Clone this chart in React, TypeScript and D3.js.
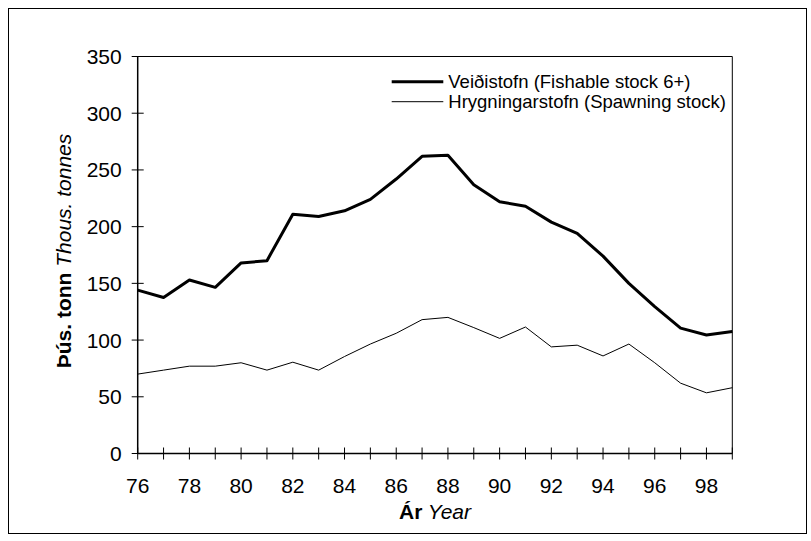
import React from "react";
import * as d3 from "d3";

const years = [76, 77, 78, 79, 80, 81, 82, 83, 84, 85, 86, 87, 88, 89, 90, 91, 92, 93, 94, 95, 96, 97, 98, 99];
const fishable = [144, 137.5, 153, 146.5, 168, 170, 211, 209, 214, 224, 242, 262, 263, 237, 222, 218, 204, 194, 174, 150, 129.5, 110.5, 104.5, 107.5];
const spawning = [70, 73.5, 77, 77, 80, 73.5, 80.5, 73.5, 85.5, 96.5, 106, 118, 120, 111, 101.5, 111.5, 94, 95.5, 86, 96.5, 80, 62, 53.5, 58];
const yTicks = [0, 50, 100, 150, 200, 250, 300, 350];
const xTickLabels = [76, 78, 80, 82, 84, 86, 88, 90, 92, 94, 96, 98];
const legendLabels = ["Veiðistofn (Fishable stock 6+)", "Hrygningarstofn (Spawning stock)"];

const FONT = "'Liberation Sans', Arial, sans-serif";

export default function App() {
  const left = 137.7, right = 732.3, top = 56.5, bottom = 453.5;
  const x = d3.scaleLinear().domain([76, 99]).range([left, right]);
  const y = d3.scaleLinear().domain([0, 350]).range([bottom, top]);
  const line = d3.line<number>().x((_, i) => x(years[i])).y((d) => y(d));

  return (
    <svg width={811} height={541} style={{ position: "absolute", left: 0, top: 0 }} fontFamily={FONT}>
      <rect x={0} y={0} width={811} height={541} fill="#fff" />
      <rect x={8.5} y={8.5} width={798} height={525} fill="none" stroke="#000" strokeWidth={1} />
      {/* plot frame top & right */}
      <line x1={left} x2={right} y1={top} y2={top} stroke="#000" strokeWidth={1} />
      <line x1={right} x2={right} y1={top} y2={bottom} stroke="#000" strokeWidth={1} />
      {/* axes */}
      <line x1={left} x2={left} y1={top} y2={bottom} stroke="#000" strokeWidth={1.5} />
      <line x1={left} x2={right} y1={bottom} y2={bottom} stroke="#000" strokeWidth={1.5} />
      {yTicks.map((t) => (
        <g key={"y" + t}>
          <line x1={left - 6} x2={left + 6} y1={y(t)} y2={y(t)} stroke="#000" strokeWidth={1} />
          <text x={left - 16} y={y(t)} dy="0.36em" textAnchor="end" fontSize={21}>{t}</text>
        </g>
      ))}
      {years.map((yr) => (
        <line key={"xt" + yr} x1={x(yr)} x2={x(yr)} y1={bottom - 6} y2={bottom + 6} stroke="#000" strokeWidth={1} />
      ))}
      {xTickLabels.map((yr) => (
        <text key={"xl" + yr} x={x(yr)} y={492.5} textAnchor="middle" fontSize={21}>{yr}</text>
      ))}
      {/* series */}
      <path d={line(spawning) || ""} fill="none" stroke="#000" strokeWidth={1} strokeLinejoin="round" />
      <path d={line(fishable) || ""} fill="none" stroke="#000" strokeWidth={3} strokeLinejoin="round" />
      {/* legend */}
      <line x1={391.7} x2={443.3} y1={81.7} y2={81.7} stroke="#000" strokeWidth={3} />
      <text x={448.3} y={81.7} dy="0.36em" fontSize={18.5}>{legendLabels[0]}</text>
      <line x1={391.7} x2={443.3} y1={101.7} y2={101.7} stroke="#000" strokeWidth={1} />
      <text x={448.3} y={101.7} dy="0.36em" fontSize={18.5}>{legendLabels[1]}</text>
      {/* axis titles */}
      <text x={(left + right) / 2} y={519} textAnchor="middle" fontSize={21}>
        <tspan fontWeight="bold">Ár</tspan>
        <tspan fontStyle="italic"> Year</tspan>
      </text>
      <text transform={`translate(70.5, ${(top + bottom) / 2 - 4}) rotate(-90)`} textAnchor="middle" fontSize={21}>
        <tspan fontWeight="bold">Þús. tonn</tspan>
        <tspan fontStyle="italic"> Thous. tonnes</tspan>
      </text>
    </svg>
  );
}
